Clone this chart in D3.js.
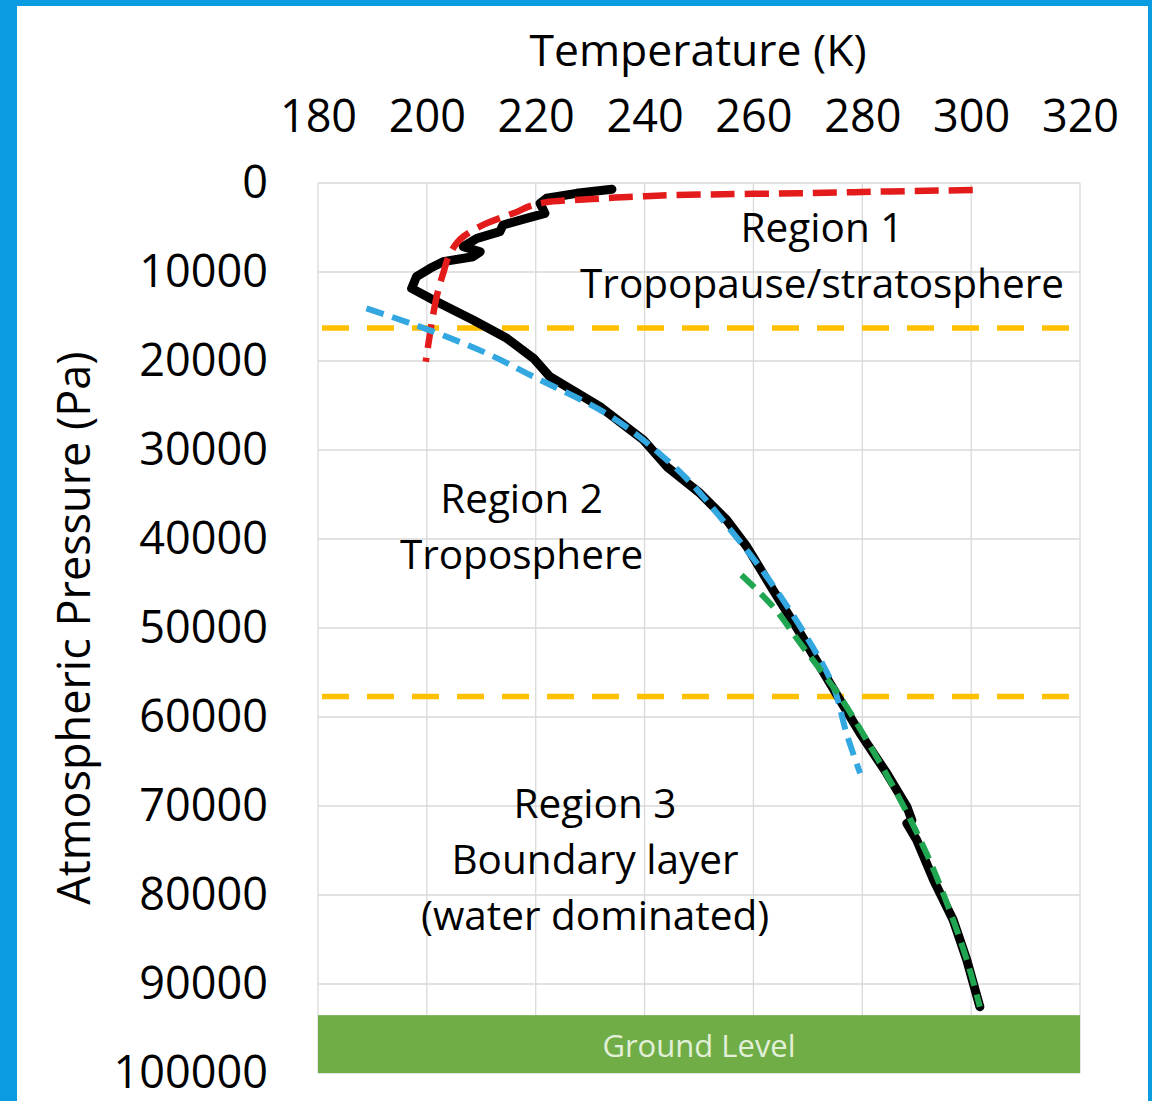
<!DOCTYPE html>
<html>
<head>
<meta charset="utf-8">
<script src="https://cdn.jsdelivr.net/npm/d3@7"></script>
<style>
  body { margin: 0; background: #fff; }
  text { font-family: "Open Sans", sans-serif; fill: #000; }
</style>
</head>
<body>
<svg id="chart"></svg>
<script>
// temperature (K) vs pressure (Pa)
const xTicks = [180, 200, 220, 240, 260, 280, 300, 320];
const yTicks = [0, 10000, 20000, 30000, 40000, 50000, 60000, 70000, 80000, 90000, 100000];

// measured sounding
const profileT = [234.0, 227.5, 222.0, 220.8, 221.7, 218.3, 214.0, 213.4, 209.2, 206.7, 209.8, 208.5, 203.0, 200.6, 198.1, 197.2,
  201.2, 208.5, 214.7, 219.6, 222.6, 231.8, 239.8, 244.1, 250.2, 255.1, 258.8, 263.6, 268.6, 275.9, 279.6, 284.5,
  288.2, 289.1, 288.2, 290.0, 293.1, 296.7, 299.2, 301.6];
const profileP = [710, 1160, 1720, 2280, 3410, 3970, 4720, 5470, 6220, 7150, 7720, 8280, 8840, 9590, 10520, 11840,
  13150, 15390, 17450, 19700, 21760, 25130, 28880, 31870, 34870, 37870, 40870, 45730, 50600, 58090, 61830, 66330,
  70080, 71570, 71950, 73820, 78310, 82810, 87300, 92550];

// region 1 fit (red)
const fit1T = [300.3, 285.0, 268.5, 250.0, 238.0, 231.8, 226.0, 222.0, 215.9, 211.0, 206.7, 204.3, 203.0, 201.8, 201.2, 200.3, 199.8];
const fit1P = [790, 950, 1150, 1300, 1550, 1750, 1950, 2150, 3400, 4530, 6030, 7900, 10150, 12770, 14640, 18010, 20080];

// region 2 fit (blue)
const fit2T = [188.9, 201.2, 211.0, 219.6, 231.8, 244.1, 256.3, 268.6, 274.7, 277.1, 279.6];
const fit2P = [14080, 16700, 19140, 21760, 25500, 31120, 39360, 49850, 56600, 61830, 66330];

// region 3 fit (green)
const fit3T = [257.8, 263.6, 268.6, 275.9, 280.8, 287.0, 291.8, 296.7, 299.2, 301.6];
const fit3P = [44040, 47600, 51720, 57720, 62580, 69330, 75320, 82810, 87300, 92550];

// region boundaries and ground
const boundaryP = [16300, 57700];
const groundP = [93500, 100000];

const regionLabels = [
  { t: 272.6, p: 6630, lines: ["Region 1", "Tropopause/stratosphere"] },
  { t: 217.4, p: 37080, lines: ["Region 2", "Troposphere"] },
  { t: 230.9, p: 71350, lines: ["Region 3", "Boundary layer", "(water dominated)"] }
];

const W = 1152, H = 1101;
const svg = d3.select("#chart").attr("width", W).attr("height", H);

// blue frame
svg.append("rect").attr("width", W).attr("height", H).attr("fill", "#0B9BE0");
svg.append("rect").attr("x", 17).attr("y", 6).attr("width", W - 17 - 4).attr("height", H - 6).attr("fill", "#fff");

const x = d3.scaleLinear().domain([180, 320]).range([318, 1080]);
const y = d3.scaleLinear().domain([0, 100000]).range([183, 1073]);

// gridlines
svg.append("g").selectAll("line").data(xTicks).join("line")
  .attr("x1", d => x(d)).attr("x2", d => x(d))
  .attr("y1", y(0)).attr("y2", y(100000))
  .attr("stroke", "#d9d9d9").attr("stroke-width", 1.3);
svg.append("g").selectAll("line").data(yTicks).join("line")
  .attr("x1", x(180)).attr("x2", x(320))
  .attr("y1", d => y(d)).attr("y2", d => y(d))
  .attr("stroke", "#d9d9d9").attr("stroke-width", 1.3);

// axes (labels only)
const xAxisG = svg.append("g")
  .attr("transform", "translate(0,132)")
  .call(d3.axisTop(x).tickValues(xTicks).tickSize(0).tickPadding(0));
const yAxisG = svg.append("g")
  .attr("transform", "translate(268,0)")
  .call(d3.axisLeft(y).tickValues(yTicks).tickSize(0).tickPadding(0).tickFormat(d3.format("d")));
[xAxisG, yAxisG].forEach(g => {
  g.select(".domain").remove();
  g.selectAll("text").style("font-size", "45px").attr("fill", "#000");
});

svg.append("text")
  .attr("x", 698).attr("y", 66)
  .attr("text-anchor", "middle")
  .style("font-size", "44.5px")
  .text("Temperature (K)");

svg.append("text")
  .attr("transform", `translate(90,${(y(0) + y(100000)) / 2}) rotate(-90)`)
  .attr("text-anchor", "middle")
  .style("font-size", "45px")
  .text("Atmospheric Pressure (Pa)");

// ground level
svg.append("rect")
  .attr("x", x(180)).attr("y", y(groundP[0]))
  .attr("width", x(320) - x(180)).attr("height", y(groundP[1]) - y(groundP[0]))
  .attr("fill", "#70AD47");
svg.append("text")
  .attr("x", (x(180) + x(320)) / 2).attr("y", (y(groundP[0]) + y(groundP[1])) / 2)
  .attr("dy", "0.42em")
  .attr("text-anchor", "middle")
  .style("font-size", "31px").style("fill", "#E2F0D9")
  .text("Ground Level");

// region boundaries
svg.append("g").selectAll("line").data(boundaryP).join("line")
  .attr("x1", x(180) + 4).attr("x2", x(320))
  .attr("y1", d => y(d)).attr("y2", d => y(d))
  .attr("stroke", "#FFC000").attr("stroke-width", 5.5)
  .attr("stroke-dasharray", "27 18");

const line = d3.line().x(d => x(d[0])).y(d => y(d[1]));
const smooth = d3.line().x(d => x(d[0])).y(d => y(d[1])).curve(d3.curveMonotoneY);
const zip = (a, b) => a.map((v, i) => [v, b[i]]);

svg.append("path")
  .datum(zip(profileT, profileP))
  .attr("d", line)
  .attr("fill", "none").attr("stroke", "#000")
  .attr("stroke-width", 9).attr("stroke-linejoin", "round").attr("stroke-linecap", "round");

const fits = [
  { t: fit1T, p: fit1P, color: "#E31B1B", dash: "24 10", w: 6.5 },
  { t: fit2T, p: fit2P, color: "#33A8E0", dash: "18 9", w: 6 },
  { t: fit3T, p: fit3P, color: "#20A550", dash: "18 9", w: 6 }
];
fits.forEach(f => {
  svg.append("path")
    .datum(zip(f.t, f.p))
    .attr("d", smooth)
    .attr("fill", "none").attr("stroke", f.color)
    .attr("stroke-width", f.w).attr("stroke-dasharray", f.dash);
});

// region annotations
regionLabels.forEach(r => {
  const t = svg.append("text")
    .attr("x", x(r.t)).attr("y", y(r.p))
    .attr("text-anchor", "middle")
    .style("font-size", "40.5px");
  r.lines.forEach((s, i) => {
    t.append("tspan").attr("x", x(r.t)).attr("dy", i === 0 ? 0 : 56).text(s);
  });
});
</script>
</body>
</html>
